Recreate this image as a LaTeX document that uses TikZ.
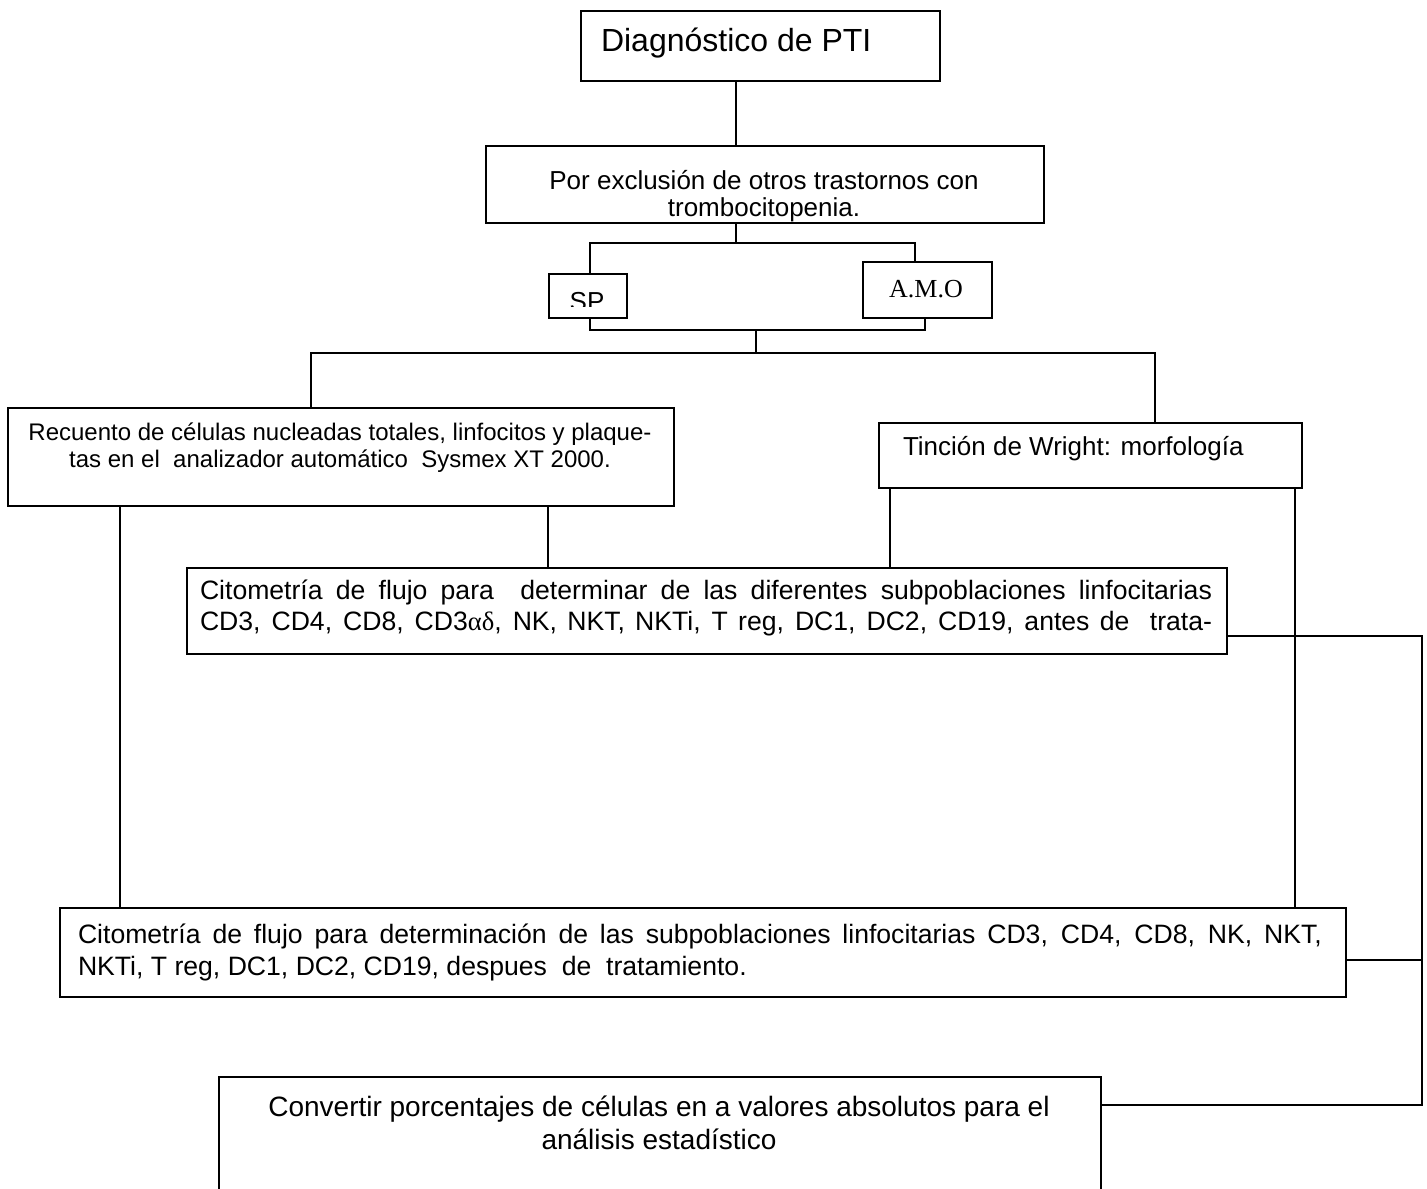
\documentclass[tikz,border=0pt]{standalone}
\usepackage{fontspec}
\setmainfont{Liberation Sans}
\newfontfamily\seriffont{Liberation Serif}
\begin{document}
\begin{tikzpicture}[x=0.5pt,y=-0.5pt,
  box/.style={draw,line width=1pt,inner sep=0pt,minimum width=0pt,minimum height=0pt},
  txt/.style={inner sep=0pt,outer sep=0pt},
  conn/.style={line width=1pt}]
\useasboundingbox (0,0) rectangle (1427,1188);
% boxes
\node[box,anchor=north west,minimum width=179.5pt,minimum height=35pt] (diag) at (580,10) {};
\node[txt,anchor=base west,font=\fontsize{16}{19}\selectfont] (diagT) at (601,52) {Diagnóstico de PTI};

\node[box,anchor=north west,minimum width=279pt,minimum height=38.5pt] (excl) at (485,145) {};
\node[txt,anchor=base,font=\fontsize{13}{15}\selectfont] (exclA) at (764,189) {Por exclusión de otros trastornos con};
\node[txt,anchor=base,font=\fontsize{13}{15}\selectfont] (exclB) at (764,216) {trombocitopenia.};

\node[box,anchor=north west,minimum width=39pt,minimum height=22pt] (sp) at (548,273) {};
\begin{scope}
\clip (548,273) rectangle (626,306);
\node[txt,anchor=base,font=\fontsize{13}{15}\selectfont] (spT) at (587,310) {SP};
\end{scope}
\node[box,anchor=north west,minimum width=64.5pt,minimum height=28pt] (amo) at (862,261) {};
\node[txt,anchor=base,font=\seriffont\fontsize{13}{15}\selectfont] (amoT) at (926,297) {A.M.O};

\node[box,anchor=north west,minimum width=333pt,minimum height=49pt] (rec) at (7,407) {};
\node[txt,anchor=base,font=\fontsize{12}{14}\selectfont] (recA) at (340,440) {Recuento de células nucleadas totales, linfocitos y plaque-};
\node[txt,anchor=base,font=\fontsize{12}{14}\selectfont] (recB) at (340,467) {tas en el\ \ analizador automático\ \ Sysmex XT 2000.};

\node[box,anchor=north west,minimum width=211.5pt,minimum height=32.5pt] (tin) at (878,422) {};
\node[txt,anchor=base west,font=\fontsize{13}{15}\selectfont] (tinT) at (903,455) {Tinción de Wright: morfología};

\node[box,anchor=north west,minimum width=520pt,minimum height=43pt] (cit) at (186,567) {};
\node[txt,anchor=base west,font=\fontsize{13.3}{15}\selectfont] (citA) at (200,599)
  {\makebox[506pt][s]{Citometría de flujo para\ \ determinar de las diferentes subpoblaciones linfocitarias}};
\node[txt,anchor=base west,font=\fontsize{13.3}{15}\selectfont] (citB) at (200,630)
  {\makebox[506pt][s]{CD3, CD4, CD8, CD3{\seriffont αδ}, NK, NKT, NKTi, T reg, DC1, DC2, CD19, antes de\ \ trata-}};

\node[box,anchor=north west,minimum width=643pt,minimum height=44.5pt] (cit2) at (59,907) {};
\node[txt,anchor=base west,font=\fontsize{13.3}{15}\selectfont] (cit2A) at (78,943)
  {\makebox[622pt][s]{Citometría de flujo para determinación de las subpoblaciones linfocitarias CD3, CD4, CD8, NK, NKT,}};
\node[txt,anchor=base west,font=\fontsize{13.3}{15}\selectfont] (cit2B) at (78,975)
  {NKTi, T reg, DC1, DC2, CD19, despues\ \ de\ \ tratamiento.};

\node[box,anchor=north west,minimum width=441pt,minimum height=80pt] (conv) at (218,1076) {};
\node[txt,anchor=base,font=\fontsize{14}{16}\selectfont] (convA) at (659,1116) {Convertir porcentajes de células en a valores absolutos para el};
\node[txt,anchor=base,font=\fontsize{14}{16}\selectfont] (convB) at (659,1149) {análisis estadístico};

% connectors
\draw[conn] (diag.south west -| 736,0) -- (excl.north west -| 736,0);
\coordinate (j1) at (736,243);
\draw[conn] (excl.south west -| 736,0) -- (j1);
\draw[conn] (sp.north west -| 590,0) |- (j1) -| (amo.north west -| 915,0);
\coordinate (j2) at (756,330);
\draw[conn] (sp.south west -| 590,0) |- (j2) -| (amo.south west -| 925,0);
\coordinate (j3) at (756,353);
\draw[conn] (j2) -- (j3);
\draw[conn] (rec.north west -| 311,0) |- (j3) -| (tin.north west -| 1155,0);
\draw[conn] (rec.south west -| 120,0) -- (cit2.north west -| 120,0);
\draw[conn] (rec.south west -| 548,0) -- (cit.north west -| 548,0);
\draw[conn] (tin.south west -| 890,0) -- (cit.north west -| 890,0);
\draw[conn] (tin.south west -| 1295,0) -- (cit2.north west -| 1295,0);
\coordinate (r1) at (1422,636);
\coordinate (r2) at (1422,1105);
\draw[conn] (cit.east |- r1) -- (r1) -- (r2) -- (conv.east |- r2);
\draw[conn] (cit2.east |- 0,960) -- (1422,960);
\end{tikzpicture}
\end{document}
